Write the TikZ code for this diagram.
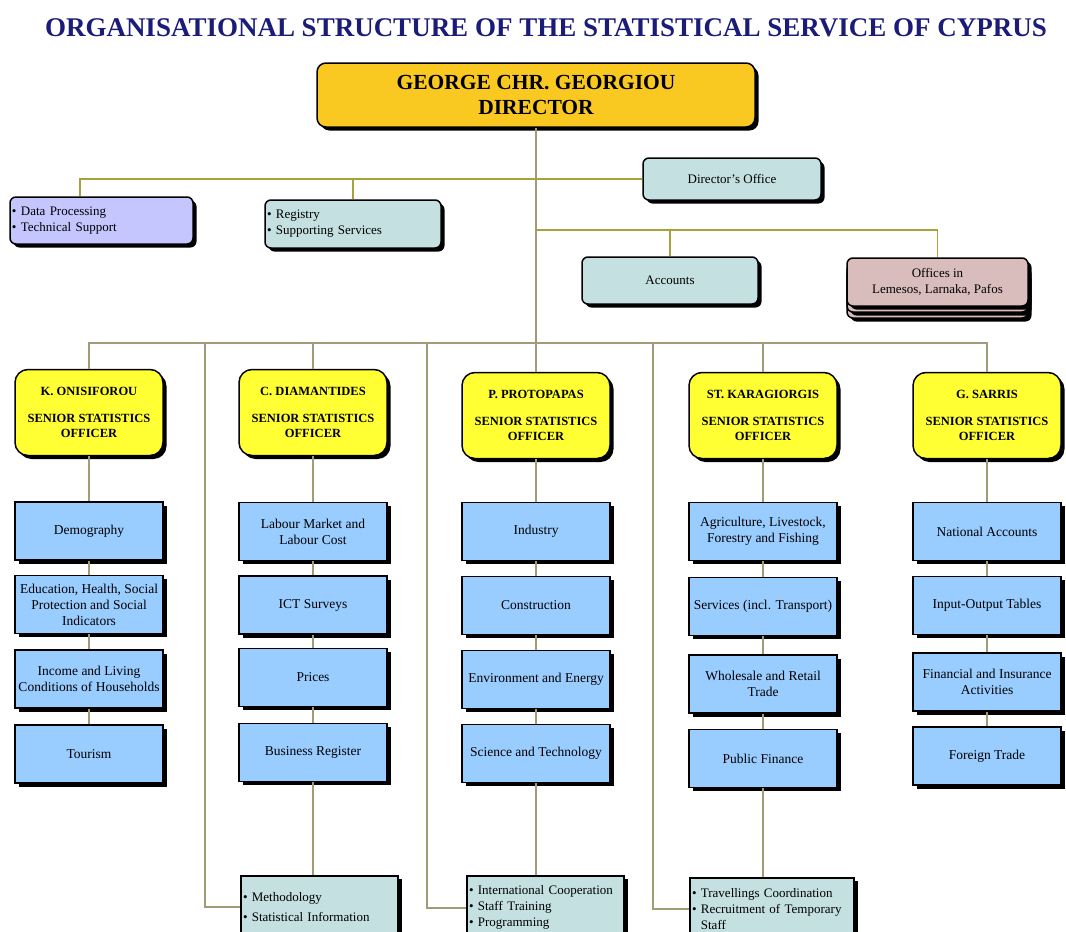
\documentclass[tikz,border=0pt]{standalone}
\usepackage{fontspec}
\setmainfont{Liberation Serif}
\usepackage{xcolor}
\usetikzlibrary{shadows}
\definecolor{titleblue}{HTML}{1B1B78}
\definecolor{dirgold}{HTML}{F9C922}
\definecolor{ssoyellow}{HTML}{FFFF33}
\definecolor{unitblue}{HTML}{99CCFF}
\definecolor{staffteal}{HTML}{C4E0E0}
\definecolor{dplilac}{HTML}{C6C6FF}
\definecolor{offrose}{HTML}{D9BDBD}
\definecolor{busline}{HTML}{A39A78}
\definecolor{topline}{HTML}{A8A23C}
\tikzset{
  cell/.style={draw=black, line width=1.5pt, align=center, inner sep=2pt,
    drop shadow={shadow xshift=3.5pt, shadow yshift=-3.5pt, fill=black, opacity=1}},
  dirbox/.style={cell, fill=dirgold, rounded corners=9pt, minimum width=438pt, minimum height=64pt,
    font=\fontsize{21.5}{25}\selectfont\bfseries},
  ssobox/.style={cell, fill=ssoyellow, rounded corners=13pt, minimum width=148pt, minimum height=86pt,
    font=\fontsize{12.5}{15}\selectfont\bfseries},
  unitbox/.style={cell, fill=unitblue, minimum width=148pt, minimum height=58pt,
    font=\fontsize{13.5}{16}\selectfont},
  staffbox/.style={cell, fill=staffteal, rounded corners=6pt, minimum height=46pt,
    font=\fontsize{13}{16}\selectfont},
  listbox/.style={staffbox, align=left, text width=#1},
  bline/.style={draw=busline, line width=1.8pt},
  tline/.style={draw=topline, line width=1.8pt},
}
\newcommand{\sso}[1]{#1\\[12pt]SENIOR STATISTICS\\OFFICER}

\begin{document}
\begin{tikzpicture}[x=1pt, y=-1pt]
  \useasboundingbox (0,0) rectangle (1066,932);
  \clip (0,0) rectangle (1066,932);
  \node[font=\fontsize{27}{30}\selectfont\bfseries, text=titleblue] (title) at (546,28)
    {ORGANISATIONAL STRUCTURE OF THE STATISTICAL SERVICE OF CYPRUS};

  % director and his staff
  \node[dirbox] (dir) at (536,95) {GEORGE CHR. GEORGIOU\\DIRECTOR};
  \node[staffbox, minimum width=178pt, minimum height=42pt] (doff) at (732,179) {Director's Office};
  \node[listbox=179pt, fill=dplilac, minimum height=47pt] (dp) at (101.5,220.5)
    {\textbullet\ Data Processing\\\textbullet\ Technical Support};
  \node[listbox=172pt, minimum height=48pt] (reg) at (353,224)
    {\textbullet\ Registry\\\textbullet\ Supporting Services};
  \node[staffbox, minimum width=176pt, minimum height=47pt] (acc) at (670,280.5) {Accounts};
  \node[staffbox, fill=offrose, minimum width=181pt, minimum height=48pt] (off3) at (937.5,294) {};
  \node[staffbox, fill=offrose, minimum width=181pt, minimum height=48pt] (off2) at (937.5,288) {};
  \node[staffbox, fill=offrose, minimum width=181pt, minimum height=48pt] (off) at (937.5,282)
    {Offices in\\Lemesos, Larnaka, Pafos};

  % senior statistics officers
  \node[ssobox] (s1) at (89,412.5) {\sso{K. ONISIFOROU}};
  \node[ssobox] (s2) at (313,412.5) {\sso{C. DIAMANTIDES}};
  \node[ssobox] (s3) at (536,415.5) {\sso{P. PROTOPAPAS}};
  \node[ssobox] (s4) at (763,415.5) {\sso{ST. KARAGIORGIS}};
  \node[ssobox] (s5) at (987,415.5) {\sso{G. SARRIS}};

  % divisions
  \node[unitbox] (u11) at (89,531) {Demography};
  \node[unitbox] (u12) at (89,604.5) {Education, Health, Social\\Protection and Social\\Indicators};
  \node[unitbox] (u13) at (89,679) {Income and Living\\Conditions of Households};
  \node[unitbox] (u14) at (89,754) {Tourism};
  \node[unitbox] (u21) at (313,531.5) {Labour Market and\\Labour Cost};
  \node[unitbox] (u22) at (313,605) {ICT Surveys};
  \node[unitbox] (u23) at (313,677.5) {Prices};
  \node[unitbox] (u24) at (313,752.5) {Business Register};
  \node[unitbox] (u31) at (536,531.5) {Industry};
  \node[unitbox] (u32) at (536,605.5) {Construction};
  \node[unitbox] (u33) at (536,679.5) {Environment and Energy};
  \node[unitbox] (u34) at (536,753.5) {Science and Technology};
  \node[unitbox] (u41) at (763,531.5) {Agriculture, Livestock,\\Forestry and Fishing};
  \node[unitbox] (u42) at (763,606.5) {Services (incl. Transport)};
  \node[unitbox] (u43) at (763,684) {Wholesale and Retail\\Trade};
  \node[unitbox] (u44) at (763,758.5) {Public Finance};
  \node[unitbox] (u51) at (987,531.5) {National Accounts};
  \node[unitbox] (u52) at (987,605.5) {Input-Output Tables};
  \node[unitbox] (u53) at (987,682) {Financial and Insurance\\Activities};
  \node[unitbox] (u54) at (987,756) {Foreign Trade};

  % support units at the foot
  \node[listbox=153pt, sharp corners, minimum height=62pt, anchor=north] (meth) at (319.5,875)
    {\textbullet\ Methodology\\[4pt]\textbullet\ Statistical Information};
  \node[listbox=153pt, sharp corners, minimum height=64pt, anchor=north] (intl) at (545.5,875)
    {\textbullet\ International Cooperation\\\textbullet\ Staff Training\\\textbullet\ Programming};
  \node[listbox=160pt, sharp corners, minimum height=62pt, anchor=north] (trav) at (772,877)
    {\textbullet\ Travellings Coordination\\\textbullet\ Recruitment of Temporary\\\phantom{\textbullet\ }Staff};

  % connectors
  \coordinate (sw) at (80,179);
  \coordinate (ow) at (536,230);
  \coordinate (bw) at (89,343);
  \coordinate (m1) at (205,343);
  \coordinate (m2) at (427,343);
  \coordinate (m3) at (653,343);
  \draw[bline] (dir.south) -- (s3.north);
  \draw[tline] (doff.west) -- (sw) -- (sw |- dp.north);
  \draw[tline] (reg.north) -- (reg.north |- sw);
  \draw[tline] (ow) -| (off.north);
  \draw[tline] (acc.north) -- (acc.north |- ow);
  \draw[bline] (s1.north) -- (s1.north |- bw) -- (s5.north |- bw) -- (s5.north);
  \foreach \c in {2,4} \draw[bline] (s\c.north) -- (s\c.north |- bw);
  \foreach \c in {1,...,5} {
    \draw[bline] (s\c.south) -- (u\c1.north);
    \draw[bline] (u\c1.south) -- (u\c2.north);
    \draw[bline] (u\c2.south) -- (u\c3.north);
    \draw[bline] (u\c3.south) -- (u\c4.north);
  }
  \draw[bline] (u24.south) -- (u24.south |- meth.north);
  \draw[bline] (u34.south) -- (u34.south |- intl.north);
  \draw[bline] (u44.south) -- (u44.south |- trav.north);
  \draw[bline] (m1) |- (meth.west);
  \draw[bline] (m2) |- (intl.west);
  \draw[bline] (m3) |- (trav.west);
\end{tikzpicture}
\end{document}
